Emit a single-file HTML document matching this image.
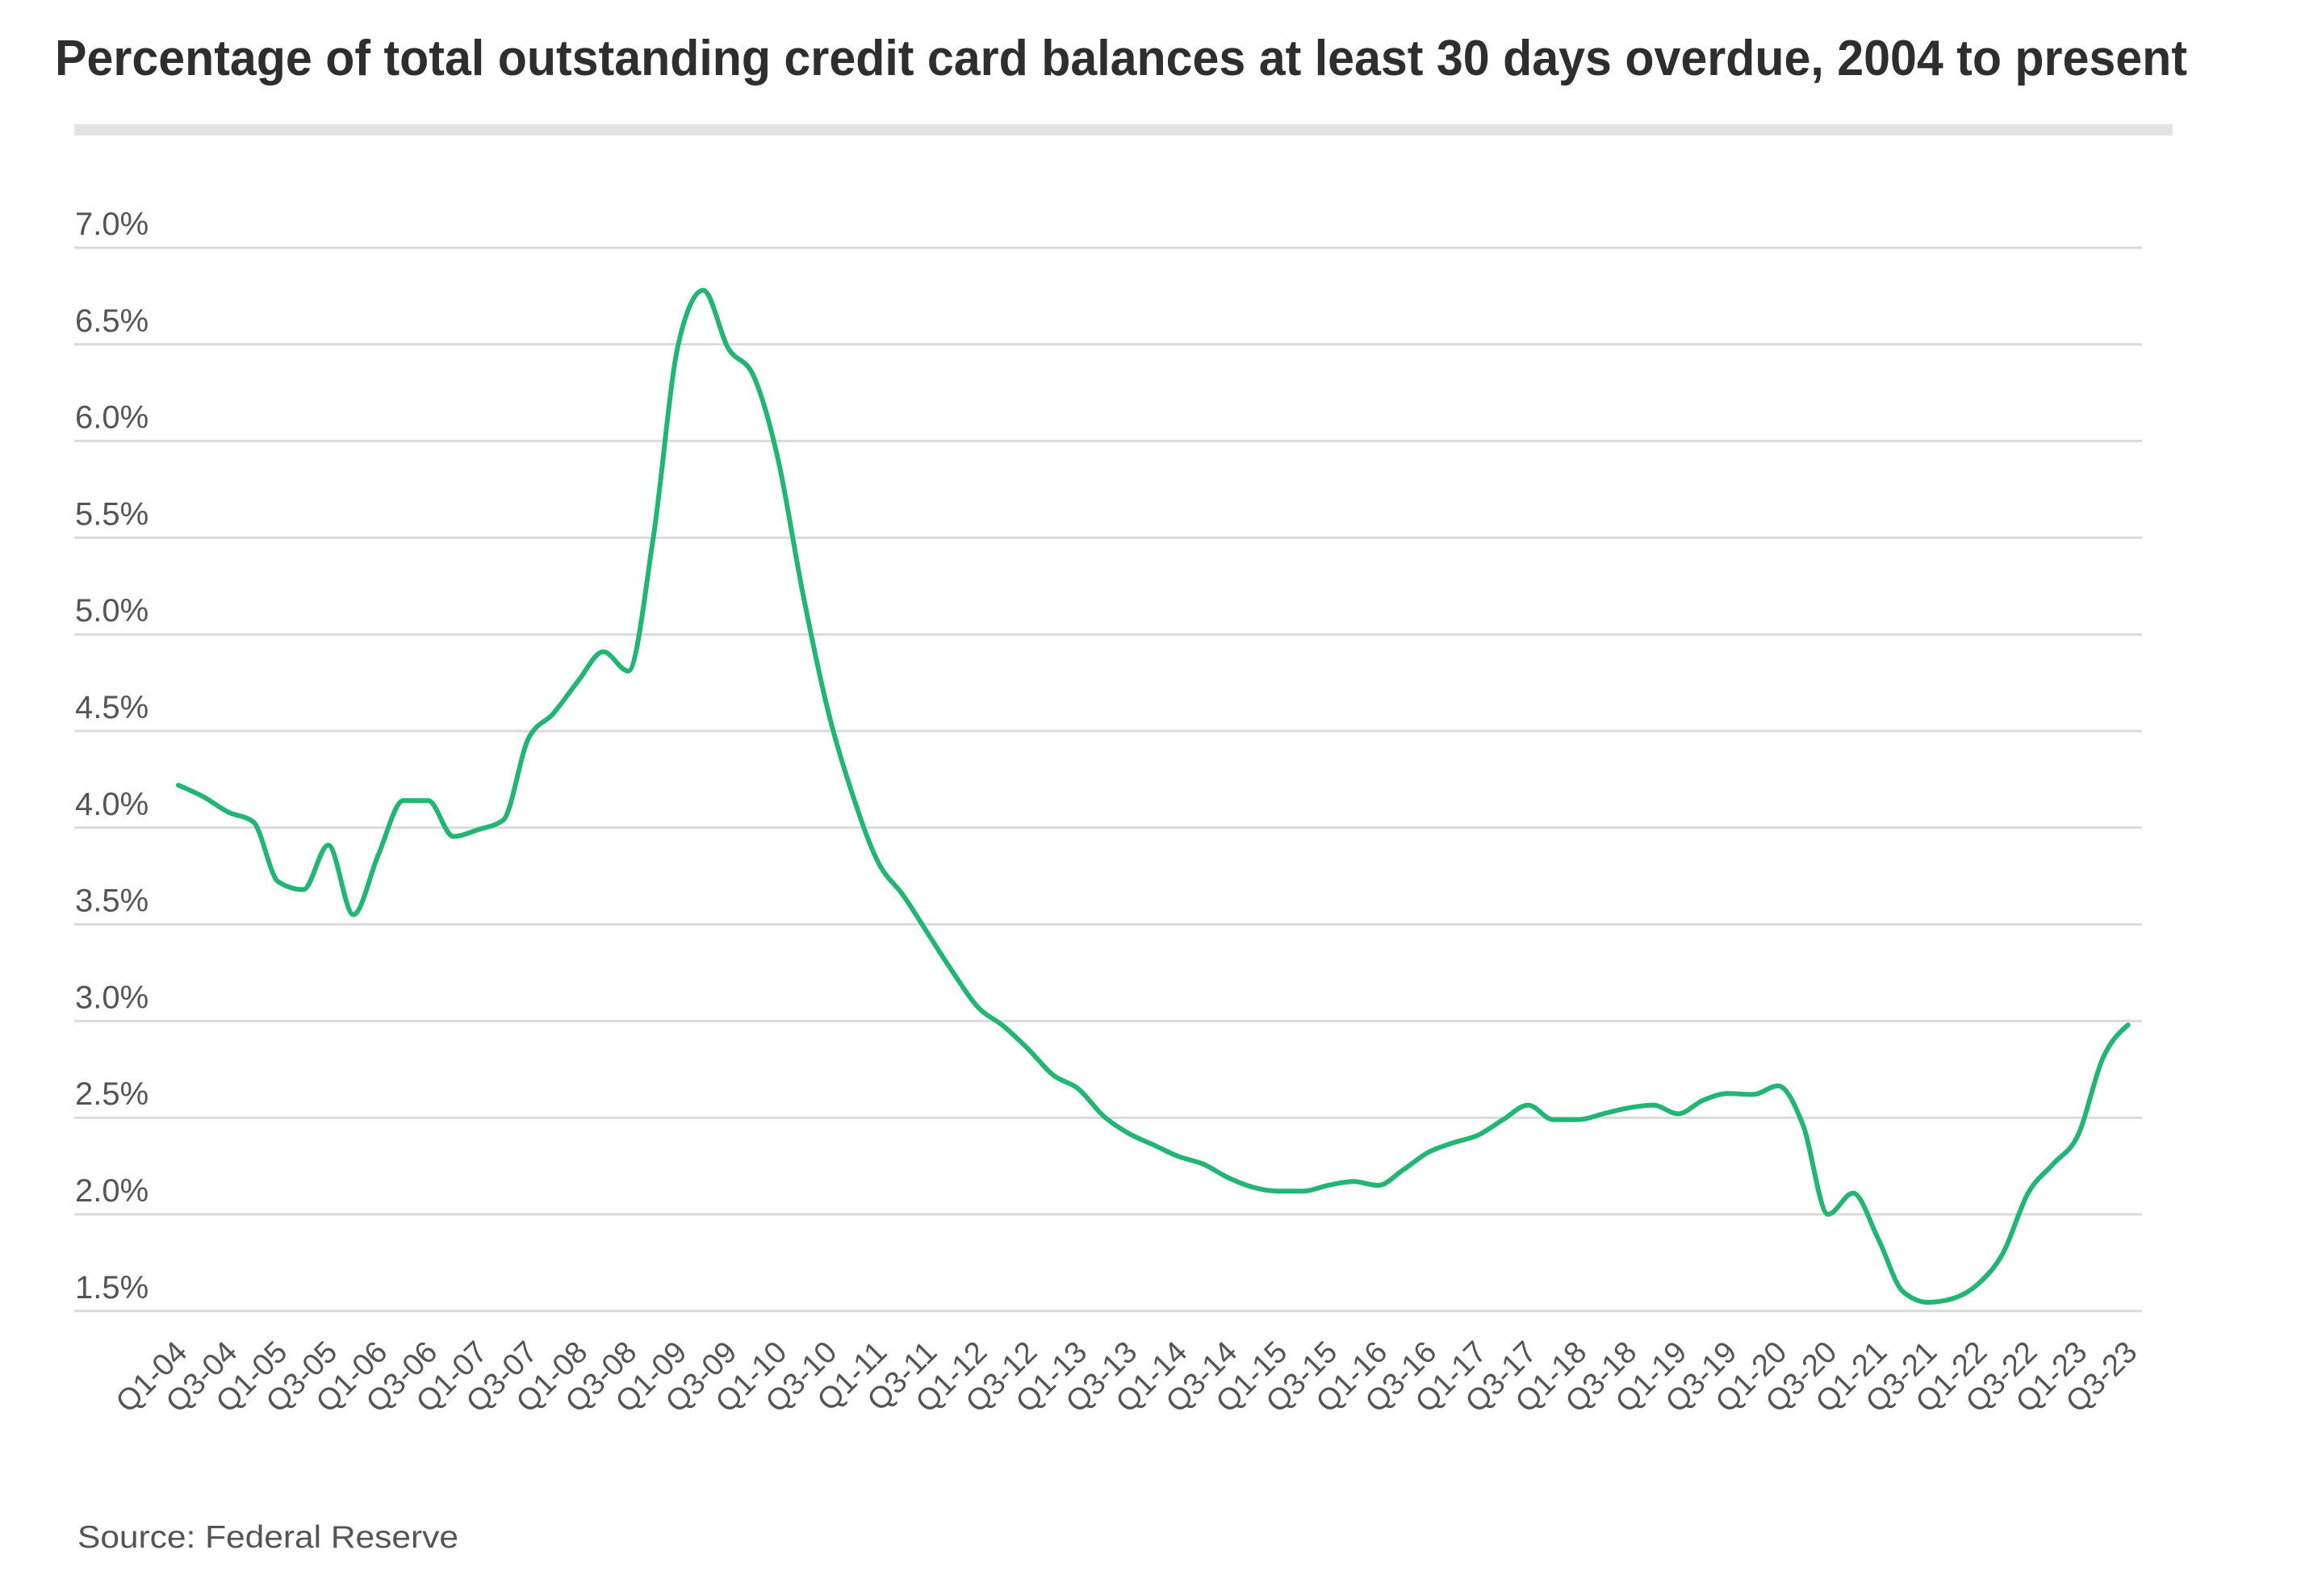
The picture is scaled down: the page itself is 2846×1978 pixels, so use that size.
<!DOCTYPE html>
<html>
<head>
<meta charset="utf-8">
<style>
html,body{margin:0;padding:0;background:#fff;}
body{width:2846px;height:1978px;overflow:hidden;}
svg{display:block;}
.yl{font-family:"Liberation Sans",sans-serif;font-size:40px;fill:#555;}
.xl{font-family:"Liberation Sans",sans-serif;font-size:38px;fill:#555;text-anchor:end;}
</style>
</head>
<body>
<svg width="2846" height="1978" viewBox="0 0 2846 1978" xmlns="http://www.w3.org/2000/svg">
<rect x="0" y="0" width="2846" height="1978" fill="#fff"/>
<text x="68" y="93" font-family="Liberation Sans, sans-serif" font-weight="bold" font-size="62" fill="#2e2e2e" textLength="2642" lengthAdjust="spacingAndGlyphs">Percentage of total outstanding credit card balances at least 30 days overdue, 2004 to present</text>
<rect x="92" y="154" width="2600" height="14" fill="#e3e3e3"/>

<g stroke="#dadada" stroke-width="3">
<line x1="92" x2="2654" y1="307" y2="307"/>
<line x1="92" x2="2654" y1="426.8" y2="426.8"/>
<line x1="92" x2="2654" y1="546.6" y2="546.6"/>
<line x1="92" x2="2654" y1="666.4" y2="666.4"/>
<line x1="92" x2="2654" y1="786.2" y2="786.2"/>
<line x1="92" x2="2654" y1="906" y2="906"/>
<line x1="92" x2="2654" y1="1025.8" y2="1025.8"/>
<line x1="92" x2="2654" y1="1145.6" y2="1145.6"/>
<line x1="92" x2="2654" y1="1265.4" y2="1265.4"/>
<line x1="92" x2="2654" y1="1385.2" y2="1385.2"/>
<line x1="92" x2="2654" y1="1505" y2="1505"/>
<line x1="92" x2="2654" y1="1624.8" y2="1624.8"/>
</g>

<g class="yl">
<text x="93" y="291">7.0%</text>
<text x="93" y="410.8">6.5%</text>
<text x="93" y="530.6">6.0%</text>
<text x="93" y="650.4">5.5%</text>
<text x="93" y="770.2">5.0%</text>
<text x="93" y="890">4.5%</text>
<text x="93" y="1009.8">4.0%</text>
<text x="93" y="1129.6">3.5%</text>
<text x="93" y="1249.4">3.0%</text>
<text x="93" y="1369.2">2.5%</text>
<text x="93" y="1489">2.0%</text>
<text x="93" y="1608.8">1.5%</text>
</g>

<polyline id="fallback" transform="matrix(30.97 0 0 -239.6 221 1984.2)" fill="none" stroke="#22b573" stroke-width="6" vector-effect="non-scaling-stroke" stroke-linejoin="round" stroke-linecap="round"
points="0,4.22 1,4.16 2,4.08 3,4.03 4,3.72 5,3.68 6,3.91 7,3.55 8,3.86 9,4.14 10,4.14 11,3.955 12,3.99 13,4.04 14,4.46 15,4.59 16,4.76 17,4.91 18,4.81 19,5.50 20,6.50 21,6.78 22,6.48 23,6.34 24,5.90 25,5.20 26,4.60 27,4.16 28,3.82 29,3.65 30,3.45 31,3.25 32,3.07 33,2.975 34,2.855 35,2.72 36,2.65 37,2.51 38,2.42 39,2.36 40,2.30 41,2.26 42,2.19 43,2.14 44,2.12 45,2.12 46,2.15 47,2.17 48,2.15 49,2.23 50,2.32 51,2.37 52,2.41 53,2.49 54,2.565 55,2.49 56,2.49 57,2.52 58,2.55 59,2.565 60,2.52 61,2.59 62,2.625 63,2.62 64,2.665 65,2.46 66,2.00 67,2.11 68,1.875 69,1.60 70,1.545 71,1.565 72,1.64 73,1.80 74,2.11 75,2.26 76,2.41 77,2.81 78,2.98"/>
<path id="smooth" d="" fill="none" stroke="#22b573" stroke-width="6" stroke-linejoin="round" stroke-linecap="round"/>

<g class="xl">
<text transform="translate(234,1678) rotate(-45)">Q1-04</text>
<text transform="translate(296,1678) rotate(-45)">Q3-04</text>
<text transform="translate(358,1678) rotate(-45)">Q1-05</text>
<text transform="translate(420,1678) rotate(-45)">Q3-05</text>
<text transform="translate(482,1678) rotate(-45)">Q1-06</text>
<text transform="translate(544,1678) rotate(-45)">Q3-06</text>
<text transform="translate(606,1678) rotate(-45)">Q1-07</text>
<text transform="translate(668,1678) rotate(-45)">Q3-07</text>
<text transform="translate(730,1678) rotate(-45)">Q1-08</text>
<text transform="translate(791,1678) rotate(-45)">Q3-08</text>
<text transform="translate(853,1678) rotate(-45)">Q1-09</text>
<text transform="translate(915,1678) rotate(-45)">Q3-09</text>
<text transform="translate(977,1678) rotate(-45)">Q1-10</text>
<text transform="translate(1039,1678) rotate(-45)">Q3-10</text>
<text transform="translate(1101,1678) rotate(-45)">Q1-11</text>
<text transform="translate(1163,1678) rotate(-45)">Q3-11</text>
<text transform="translate(1225,1678) rotate(-45)">Q1-12</text>
<text transform="translate(1287,1678) rotate(-45)">Q3-12</text>
<text transform="translate(1349,1678) rotate(-45)">Q1-13</text>
<text transform="translate(1411,1678) rotate(-45)">Q3-13</text>
<text transform="translate(1473,1678) rotate(-45)">Q1-14</text>
<text transform="translate(1535,1678) rotate(-45)">Q3-14</text>
<text transform="translate(1597,1678) rotate(-45)">Q1-15</text>
<text transform="translate(1659,1678) rotate(-45)">Q3-15</text>
<text transform="translate(1721,1678) rotate(-45)">Q1-16</text>
<text transform="translate(1782,1678) rotate(-45)">Q3-16</text>
<text transform="translate(1844,1678) rotate(-45)">Q1-17</text>
<text transform="translate(1906,1678) rotate(-45)">Q3-17</text>
<text transform="translate(1968,1678) rotate(-45)">Q1-18</text>
<text transform="translate(2030,1678) rotate(-45)">Q3-18</text>
<text transform="translate(2092,1678) rotate(-45)">Q1-19</text>
<text transform="translate(2154,1678) rotate(-45)">Q3-19</text>
<text transform="translate(2216,1678) rotate(-45)">Q1-20</text>
<text transform="translate(2278,1678) rotate(-45)">Q3-20</text>
<text transform="translate(2340,1678) rotate(-45)">Q1-21</text>
<text transform="translate(2402,1678) rotate(-45)">Q3-21</text>
<text transform="translate(2464,1678) rotate(-45)">Q1-22</text>
<text transform="translate(2526,1678) rotate(-45)">Q3-22</text>
<text transform="translate(2588,1678) rotate(-45)">Q1-23</text>
<text transform="translate(2650,1678) rotate(-45)">Q3-23</text>
</g>

<text x="96" y="1918" font-family="Liberation Sans, sans-serif" font-size="39" fill="#555" textLength="472" lengthAdjust="spacingAndGlyphs">Source: Federal Reserve</text>
</svg>
<script>
(function(){
  var v=[4.22,4.16,4.08,4.03,3.72,3.68,3.91,3.55,3.86,4.14,4.14,3.955,3.99,4.04,4.46,4.59,4.76,4.91,4.81,5.50,6.50,6.78,6.48,6.34,5.90,5.20,4.60,4.16,3.82,3.65,3.45,3.25,3.07,2.975,2.855,2.72,2.65,2.51,2.42,2.36,2.30,2.26,2.19,2.14,2.12,2.12,2.15,2.17,2.15,2.23,2.32,2.37,2.41,2.49,2.565,2.49,2.49,2.52,2.55,2.565,2.52,2.59,2.625,2.62,2.665,2.46,2.00,2.11,1.875,1.60,1.545,1.565,1.64,1.80,2.11,2.26,2.41,2.81,2.98];
  var n=v.length,h=30.97,x=[],y=[],i;
  for(i=0;i<n;i++){x.push(221+h*i);y.push(1984.2-239.6*v[i]);}
  var s=[];for(i=0;i<n-1;i++)s.push((y[i+1]-y[i])/h);
  function sign(a){return a<0?-1:1;}
  var t=new Array(n);
  for(i=1;i<n-1;i++){
    var s0=s[i-1],s1=s[i],p=(s0+s1)/2;
    t[i]=(sign(s0)+sign(s1))*Math.min(Math.abs(s0),Math.abs(s1),0.5*Math.abs(p))||0;
  }
  t[0]=(3*s[0]-t[1])/2;
  t[n-1]=(3*s[n-2]-t[n-2])/2;
  var d="M"+x[0].toFixed(1)+","+y[0].toFixed(1);
  for(i=0;i<n-1;i++){
    var dx=h/3;
    d+="C"+(x[i]+dx).toFixed(1)+","+(y[i]+dx*t[i]).toFixed(1)+" "+(x[i+1]-dx).toFixed(1)+","+(y[i+1]-dx*t[i+1]).toFixed(1)+" "+x[i+1].toFixed(1)+","+y[i+1].toFixed(1);
  }
  document.getElementById("smooth").setAttribute("d",d);
  document.getElementById("fallback").setAttribute("visibility","hidden");
})();
</script>
</body>
</html>
